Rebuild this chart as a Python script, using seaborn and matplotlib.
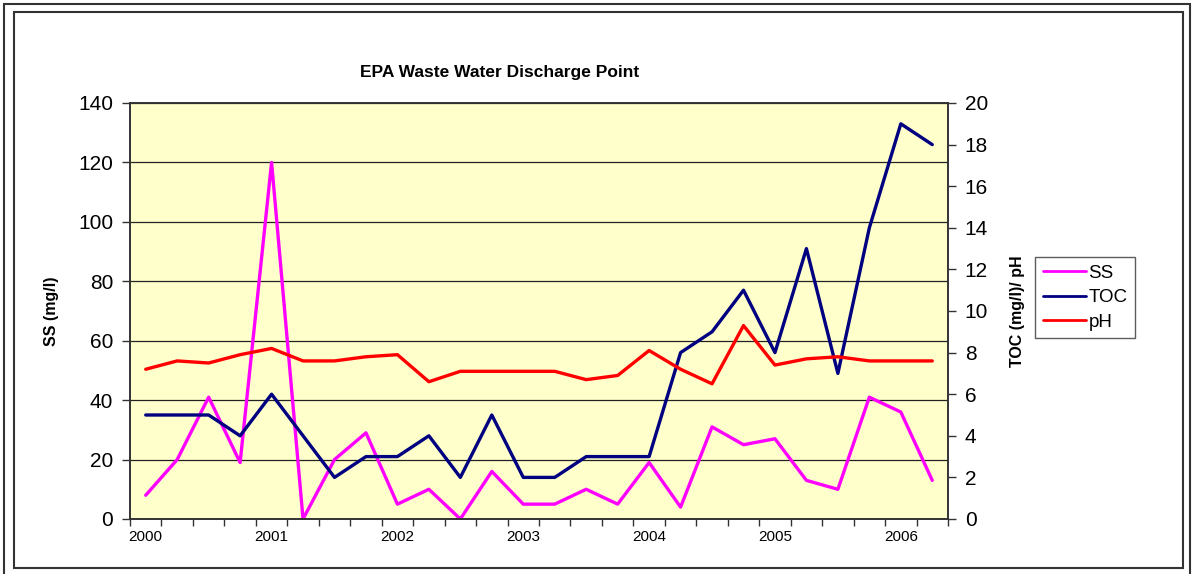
import matplotlib
matplotlib.use("Agg")
import matplotlib.pyplot as plt
import seaborn as sns
import numpy as np
import pandas as pd
from matplotlib.patches import Rectangle

# ---- data (quarterly samples, 2000-2006) ----
ss = [8, 20, 41, 19, 120, 0, 20, 29, 5, 10, 0, 16, 5, 5, 10, 5,
      19, 4, 31, 25, 27, 13, 10, 41, 36, 13]
toc = [5, 5, 5, 4, 6, 4, 2, 3, 3, 4, 2, 5, 2, 2, 3, 3,
       3, 8, 9, 11, 8, 13, 7, 14, 19, 18]
ph = [7.2, 7.6, 7.5, 7.9, 8.2, 7.6, 7.6, 7.8, 7.9, 6.6, 7.1, 7.1, 7.1, 7.1, 6.7, 6.9,
      8.1, 7.2, 6.5, 9.3, 7.4, 7.7, 7.8, 7.6, 7.6, 7.6]
year_labels = ["2000", "2001", "2002", "2003", "2004", "2005", "2006"]

n = len(ss)
idx = list(range(n))
df = pd.DataFrame({"i": idx, "SS": ss, "TOC": toc, "pH": ph})

sns.set_theme(style="white")
plt.rcParams["font.family"] = ["Liberation Sans", "DejaVu Sans"]
plt.rcParams["text.color"] = "black"
plt.rcParams["axes.labelcolor"] = "black"
plt.rcParams["xtick.color"] = "black"
plt.rcParams["ytick.color"] = "black"

W, H = 1196, 574
fig = plt.figure(figsize=(W / 100, H / 100), dpi=100)
fig.patch.set_facecolor("white")

# frames
fig.patches.append(Rectangle((4 / W, -0.05), 1186 / W, 1 - 4 / H + 0.05,
                             transform=fig.transFigure, fill=False,
                             edgecolor="#333333", lw=1.5))
fig.patches.append(Rectangle((14 / W, 1 - 568 / H), 1169 / W, 556 / H,
                             transform=fig.transFigure, fill=False,
                             edgecolor="#333333", lw=1.5))

left, right, top, bottom = 130, 948, 103, 519
ax = fig.add_axes([left / W, 1 - bottom / H, (right - left) / W, (bottom - top) / H])
ax.set_facecolor("#FFFFCC")
ax2 = ax.twinx()

lw = 2.4
sns.lineplot(data=df, x="i", y="SS", ax=ax, color="#FF00FF", lw=lw, label="SS", legend=False)
sns.lineplot(data=df, x="i", y="TOC", ax=ax2, color="#000080", lw=lw, label="TOC", legend=False)
sns.lineplot(data=df, x="i", y="pH", ax=ax2, color="#FF0000", lw=lw, label="pH", legend=False)

ax.set_xlim(-0.5, n - 0.5)
ax.set_ylim(0, 140)
ax2.set_ylim(0, 20)
ax.set_yticks(np.arange(0, 141, 20))
ax2.set_yticks(np.arange(0, 21, 2))
ax.yaxis.grid(True, color="#222222", lw=0.9)
ax.set_axisbelow(True)

# x ticks: marks at category boundaries, year labels every 4th category
ax.set_xticks(np.arange(-0.5, n, 1.0))
ax.set_xticklabels([])
ax.set_xticks(np.arange(0, n, 4), minor=True)
ax.set_xticklabels(year_labels, minor=True, fontsize=11)
ax.tick_params(axis="x", which="major", direction="out", length=5, width=1, color="#333333", bottom=True)
ax.tick_params(axis="x", which="minor", length=0, pad=8)

ax.tick_params(axis="y", direction="out", length=6, width=1, color="#333333", labelsize=15, left=True, pad=6)
ax2.tick_params(axis="y", direction="out", length=6, width=1, color="#333333", labelsize=15, right=True, pad=6)

for a in (ax, ax2):
    for s in a.spines.values():
        s.set_color("#333333")
        s.set_linewidth(1.2)

ax.set_xlabel("")
ax.set_ylabel("SS (mg/l)", fontsize=11.5, fontweight="bold", labelpad=14)
ax2.set_ylabel("TOC (mg/l)/ pH", fontsize=11.5, fontweight="bold", labelpad=16)

fig.text(500 / W, 1 - 72 / H, "EPA Waste Water Discharge Point", ha="center", va="center",
         fontsize=12.5, fontweight="bold")

h1, l1 = ax.get_legend_handles_labels()
h2, l2 = ax2.get_legend_handles_labels()
leg = fig.legend(h1 + h2, l1 + l2, loc="upper left",
                 bbox_to_anchor=(1035 / W, 1 - 257 / H), fontsize=13.5,
                 frameon=True, fancybox=False, handlelength=2.3, handletextpad=0.15,
                 borderpad=0.4, labelspacing=0.4, borderaxespad=0)
leg.get_frame().set_edgecolor("#333333")
leg.get_frame().set_linewidth(1.0)
for line in leg.get_lines():
    line.set_linewidth(2.0)

fig.savefig("out.png", dpi=100)
